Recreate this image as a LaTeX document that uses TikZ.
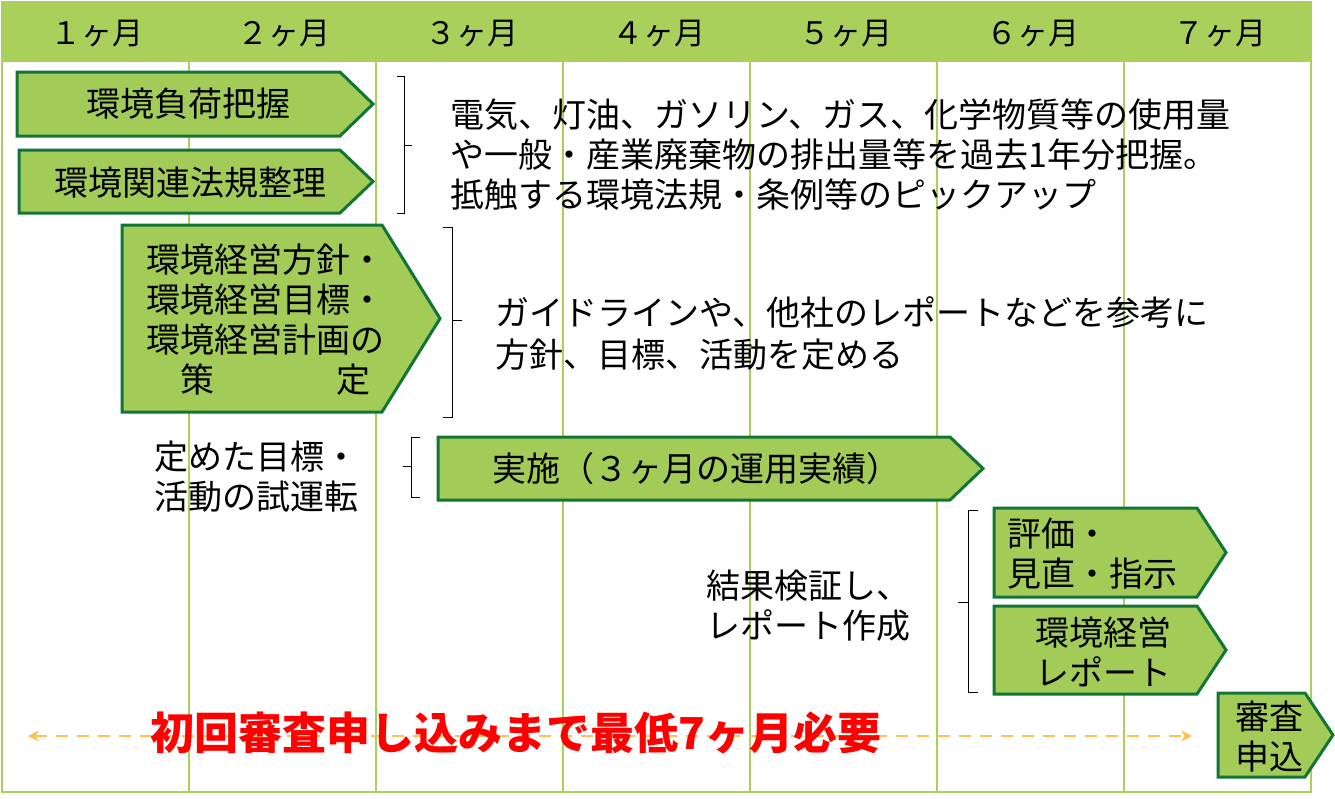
\documentclass[tikz,border=0pt]{standalone}
\usepackage{fontspec}
\usetikzlibrary{arrows.meta}
\setmainfont{Noto Sans CJK JP}
\definecolor{hdr}{HTML}{A9D05A}
\definecolor{boxf}{HTML}{A2CB57}
\definecolor{boxd}{HTML}{127536}
\definecolor{arr}{HTML}{FFC055}
\begin{document}
\begin{tikzpicture}[x=1pt,y=-1pt,
  txt/.style={align=left,anchor=west,inner sep=0},
  pbox/.style={fill=boxf,draw=boxd,line width=3pt,line join=miter}]
\useasboundingbox (0,0) rectangle (1335,798);
\fill[white] (0,0) rectangle (1335,798);
\fill[hdr] (2,2) rectangle (1311,62);
\foreach \x in {189,376,563,750,937,1124} \draw[hdr,line width=2pt] (\x,62) -- (\x,792);
\draw[hdr,line width=2pt] (2,2) rectangle (1311,792);
\foreach \i/\x in {１/97,２/284,３/472,４/659,５/846,６/1033,７/1220}
  \node[font=\fontsize{31}{34}\selectfont] at (\x,34) {\i ヶ月};
% boxes
\newcommand\pent[5]{\draw[pbox] (#1,#2) -- (#3,#2) -- (#4,{(#2+#5)/2}) -- (#3,#5) -- (#1,#5) -- cycle;}
\pent{17}{72}{340}{373}{136}
\node[font=\fontsize{34}{38}\selectfont] (b1) at (188,104) {環境負荷把握};
\pent{19}{150}{340}{373}{213}
\node[font=\fontsize{34}{38}\selectfont] (b2) at (190,183) {環境関連法規整理};
\pent{122}{225}{382}{440}{412}
\node[font=\fontsize{34}{40}\selectfont,align=left] (b3) at (265,320) {環境経営方針・\\環境経営目標・\\環境経営計画の\\\hspace{1em}策\hspace{3.6em}定};
\pent{438}{437}{950}{983}{500}
\node[font=\fontsize{34}{38}\selectfont] (b4) at (696,469) {実施（３ヶ月の運用実績）};
\pent{994}{508}{1197}{1226}{597}
\node[font=\fontsize{34}{40}\selectfont,align=left,anchor=west] (b5) at (1004,554) {評価・\\見直・指示};
\pent{994}{606}{1197}{1226}{694}
\node[font=\fontsize{34}{40}\selectfont,align=center] (b6) at (1103,652) {環境経営\\レポート};
\pent{1218}{693}{1305}{1333}{777}
\node[font=\fontsize{34}{40}\selectfont,align=center] (b7) at (1269,737) {審査\\申込};
% braces
\draw[line width=0.9pt] (397,76) -- (404,76) -- (404,145) -- (412,145);
\draw[line width=0.9pt] (404,145) -- (404,213) -- (397,213);
\draw[line width=0.9pt] (443,227) -- (452,227) -- (452,320) -- (462,320);
\draw[line width=0.9pt] (452,320) -- (452,417) -- (443,417);
\draw[line width=0.9pt] (420,437) -- (411,437) -- (411,466) -- (403,466);
\draw[line width=0.9pt] (411,466) -- (411,497) -- (420,497);
\draw[line width=0.9pt] (978,510) -- (968,510) -- (968,602) -- (958,602);
\draw[line width=0.9pt] (968,602) -- (968,692) -- (978,692);
% texts
\node[txt,font=\fontsize{34}{40}\selectfont] (t1) at (450,155) {電気、灯油、ガソリン、ガス、化学物質等の使用量\\や一般・産業廃棄物の排出量等を過去1年分把握。\\抵触する環境法規・条例等のピックアップ};
\node[txt,font=\fontsize{34}{42}\selectfont] (t2) at (495,334) {ガイドラインや、他社のレポートなどを参考に\\方針、目標、活動を定める};
\node[txt,font=\fontsize{34}{40}\selectfont] (t3) at (154,477) {定めた目標・\\活動の試運転};
\node[txt,font=\fontsize{34}{40}\selectfont] (t4) at (706,606) {結果検証し、\\レポート作成};
% dashed arrow
\coordinate (aL) at (28,736);
\coordinate (aR) at (1192,736);
\draw[arr,line width=2.5pt,dash pattern=on 12pt off 9pt,<->,>={Stealth[length=11pt,width=11pt]}] (aL) -- (aR);
\node[text=red,font=\fontsize{44}{48}\selectfont\bfseries] (red) at (516,733) {初回審査申し込みまで最低7ヶ月必要};
\end{tikzpicture}
\end{document}
